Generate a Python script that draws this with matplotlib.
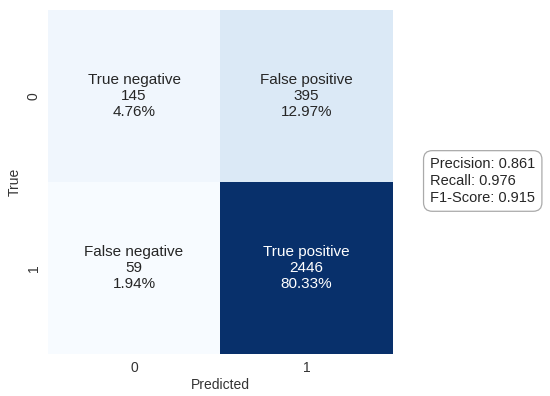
import matplotlib
matplotlib.use("Agg")
import matplotlib.pyplot as plt
import numpy as np
import seaborn as sns

# Data
class_labels = ["0", "1"]
counts = np.array([[145, 395], [59, 2446]])
names = ["True negative", "False positive", "False negative", "True positive"]
percents = ["4.76%", "12.97%", "1.94%", "80.33%"]
metrics = {"Precision": 0.861, "Recall": 0.976, "F1-Score": 0.915}

plt.rcParams["font.family"] = ["Liberation Sans", "DejaVu Sans"]

annot = np.array([f"{n}\n{c}\n{p}" for n, c, p in zip(names, counts.flatten(), percents)]).reshape(2, 2)

fig = plt.figure(figsize=(5.5, 3.96), dpi=100)
ax = fig.add_axes([0.087, 0.106, 0.627, 0.869])
sns.heatmap(counts, annot=annot, fmt="", cmap="Blues", cbar=False, ax=ax,
            xticklabels=class_labels, yticklabels=class_labels,
            annot_kws={"fontsize": 11, "color": "#262626"})
# white text on the dark cell
for t, c in zip(ax.texts, counts.flatten()):
    t.set_color("white" if c > 1000 else "#262626")
    t.set_linespacing(1.15)

ax.set_xlabel("Predicted", fontsize=10, color="#333333", labelpad=2)
ax.set_ylabel("True", fontsize=10, color="#333333", labelpad=4)
ax.tick_params(length=0, labelsize=10, colors="#333333", pad=5)
plt.setp(ax.get_yticklabels(), rotation=90, va="center")

text = "\n".join(f"{k}: {v:.3f}" for k, v in metrics.items())
fig.text(0.782, 0.543, text, fontsize=10.5, color="#262626", va="center", ha="left",
         linespacing=1.25,
         bbox=dict(boxstyle="round,pad=0.45,rounding_size=0.6", facecolor="white",
                   edgecolor="#aaaaaa", linewidth=0.9))

fig.savefig("out.png", dpi=100)
